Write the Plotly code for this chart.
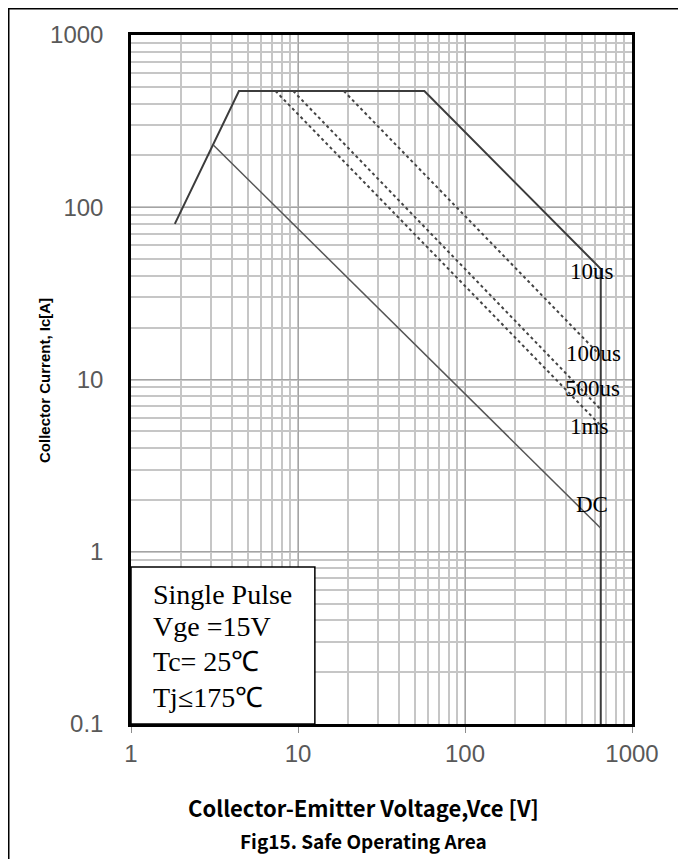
import math
import plotly.graph_objects as go

# ---- data ----
soa10us_v = [1.83, 4.43, 57.1, 650, 650]
soa10us_i = [80, 473, 473, 43.9, 0.1]
dc_v = [3.11, 650]
dc_i = [230, 1.37]
p100us_v = [18.8, 650]
p100us_i = [473, 13.7]
p500us_v = [9.36, 650]
p500us_i = [473, 6.7]
p1ms_v = [7.33, 650]
p1ms_i = [473, 5.4]

curve_labels = ["10us", "100us", "500us", "1ms", "DC"]
label_v = [578, 588, 584, 552, 576]
label_i = [42.3, 14.2, 8.9, 5.33, 1.87]

info_lines = ["Single Pulse", "Vge =15V", "Tc= 25\u2103", "Tj\u2264175\u2103"]

x_ticks = [1, 10, 100, 1000]
y_ticks = [0.1, 1, 10, 100, 1000]
y_ticktext = ["0.1", "1", "10", "100", "1000"]

fig = go.Figure()

fig.add_trace(go.Scatter(x=soa10us_v, y=soa10us_i, mode="lines",
                         line=dict(color="#3c3c3c", width=2), hoverinfo="skip"))
fig.add_trace(go.Scatter(x=dc_v, y=dc_i, mode="lines",
                         line=dict(color="#555555", width=1.5), hoverinfo="skip"))
for xs, ys in [(p100us_v, p100us_i), (p500us_v, p500us_i), (p1ms_v, p1ms_i)]:
    fig.add_trace(go.Scatter(x=xs, y=ys, mode="lines",
                             line=dict(color="#444444", width=2, dash="3px,3px"),
                             hoverinfo="skip"))

for t, xv, yv in zip(curve_labels, label_v, label_i):
    fig.add_annotation(x=math.log10(xv), y=math.log10(yv), xref="x", yref="y", text=t,
                       showarrow=False,
                       font=dict(family="Liberation Serif, Times New Roman, serif",
                                 size=23, color="#000000"),
                       xanchor="center", yanchor="middle")

# info box
fig.add_shape(type="rect", xref="x domain", yref="y domain", x0=0, x1=0.367, y0=0, y1=0.228,
              line=dict(color="#000000", width=1.5), fillcolor="white", layer="above")
info_y = [0.188, 0.142, 0.090, 0.039]
for t, yy in zip(info_lines, info_y):
    fig.add_annotation(x=0.04, y=yy, xref="x domain", yref="y domain", text=t,
                       showarrow=False, xanchor="left", yanchor="middle",
                       font=dict(family="Liberation Serif, Times New Roman, serif",
                                 size=28, color="#000000"))

# outer frame (left and top edges of the figure border)
fig.add_shape(type="rect", xref="paper", yref="paper", x0=-0.2440, x1=1.3, y0=-0.4, y1=1.0381,
              line=dict(color="#000000", width=1.5), layer="below")

fig.update_xaxes(type="log", range=[0, 3], tickvals=x_ticks, ticktext=[str(v) for v in x_ticks],
                 showgrid=True, gridcolor="#a4a4a4", gridwidth=1.4,
                 minor=dict(showgrid=True, gridcolor="#c6c6c6", gridwidth=1.6, dtick="D1"),
                 showline=True, linecolor="#000000", linewidth=2.5, mirror=True,
                 ticks="outside", ticklen=6, tickcolor="#8c8c8c",
                 tickfont=dict(family="Liberation Sans, Arial, sans-serif", size=24, color="#595959"),
                 zeroline=False)
fig.update_yaxes(type="log", range=[-1, 3], tickvals=y_ticks, ticktext=y_ticktext,
                 showgrid=True, gridcolor="#a4a4a4", gridwidth=1.4,
                 minor=dict(showgrid=True, gridcolor="#c6c6c6", gridwidth=1.6, dtick="D1"),
                 showline=True, linecolor="#000000", linewidth=2.5, mirror=True,
                 ticks="", ticklabelstandoff=20,
                 tickfont=dict(family="Liberation Sans, Arial, sans-serif", size=24, color="#595959"),
                 zeroline=False)

fig.add_annotation(x=-0.1717, y=0.4993, xref="paper", yref="paper", textangle=-90,
                   xanchor="center", yanchor="middle", showarrow=False,
                   text="<b>Collector Current, Ic[A]</b>",
                   font=dict(family="Liberation Sans, Arial, sans-serif", size=15, color="#000000"))
fig.add_annotation(x=0.465, y=-0.1205, xref="paper", yref="paper", xanchor="center", yanchor="middle",
                   text="<b>Collector-Emitter Voltage,Vce [V]</b>", showarrow=False,
                   font=dict(family="Noto Sans CJK SC, Noto Sans, sans-serif", size=22, color="#000000"))
fig.add_annotation(x=0.465, y=-0.1684, xref="paper", yref="paper", xanchor="center", yanchor="middle",
                   text="<b>Fig15. Safe Operating Area</b>", showarrow=False,
                   font=dict(family="Noto Sans CJK SC, Noto Sans, sans-serif", size=19, color="#000000"))

fig.update_layout(width=678, height=851, showlegend=False,
                  paper_bgcolor="white", plot_bgcolor="white",
                  margin=dict(l=123, r=54, t=27, b=135))

fig.write_html("out.html")
